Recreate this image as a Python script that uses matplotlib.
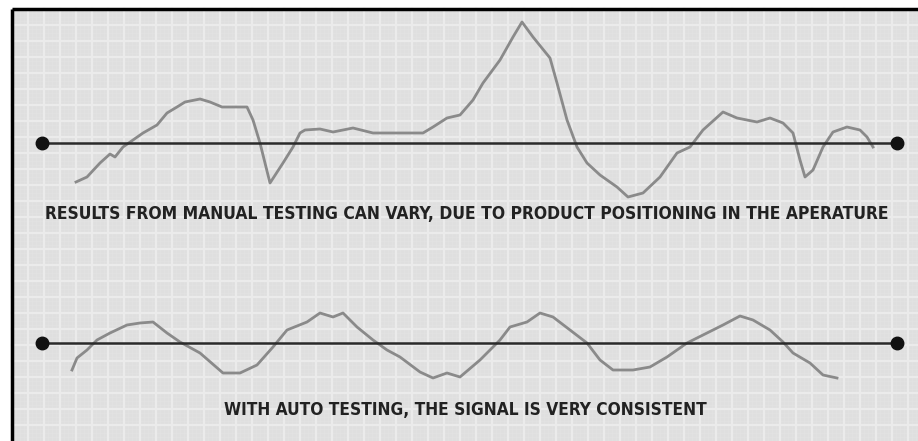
import matplotlib
matplotlib.use("Agg")
import matplotlib.pyplot as plt
from matplotlib import font_manager
import numpy as np

# Top signal (manual testing) - pixel coordinates
manual_x = [76, 87, 100, 110, 115, 123, 133, 143, 157, 167, 177, 185, 200, 210, 222, 233, 247,
            253, 260, 270, 283, 293, 300, 305, 320, 333, 353, 373, 400, 423, 433, 447, 460, 473,
            483, 500, 513, 522, 533, 550, 557, 567, 577, 587, 600, 617, 628, 643, 660, 677, 690,
            703, 723, 737, 757, 770, 783, 793, 800, 805, 813, 823, 833, 847, 860, 867, 873]
manual_y = [182, 177, 163, 154, 157, 147, 140, 133, 125, 113, 107, 102, 99, 102, 107, 107, 107,
            120, 143, 183, 163, 147, 133, 130, 129, 132, 128, 133, 133, 133, 127, 118, 115, 100,
            83, 60, 37, 22, 37, 58, 83, 120, 147, 163, 175, 187, 197, 193, 177, 153, 147,
            130, 112, 118, 122, 118, 123, 133, 160, 177, 170, 147, 132, 127, 130, 137, 147]

# Bottom signal (auto testing)
auto_x = [72, 77, 87, 97, 110, 127, 140, 153, 167, 180, 200, 223, 240, 257, 273, 287, 307, 320,
          333, 343, 357, 373, 387, 400, 420, 433, 447, 460, 480, 500, 510, 527, 540, 553, 570,
          587, 600, 613, 633, 650, 667, 687, 707, 723, 740, 753, 770, 783, 793, 810, 823, 837]
auto_y = [370, 358, 350, 340, 333, 325, 323, 322, 333, 342, 353, 373, 373, 365, 347, 330, 322, 313,
          317, 313, 327, 340, 350, 357, 372, 378, 373, 377, 360, 340, 327, 322, 313, 317, 330,
          343, 360, 370, 370, 367, 357, 343, 333, 325, 316, 320, 330, 342, 353, 363, 375, 378]

baseline_x = [42, 897]
baseline_top_y = 143
baseline_bottom_y = 343

caption_top = "RESULTS FROM MANUAL TESTING CAN VARY, DUE TO PRODUCT POSITIONING IN THE APERATURE"
caption_bottom = "WITH AUTO TESTING, THE SIGNAL IS VERY CONSISTENT"

W, H = 918, 441
fig = plt.figure(figsize=(W / 100, H / 100), dpi=100)
fig.patch.set_facecolor("white")
ax = fig.add_axes([0, 0, 1, 1])
ax.set_xlim(0, W)
ax.set_ylim(H, 0)
ax.axis("off")

# background panel
x0, y0 = 12, 9
ax.add_patch(plt.Rectangle((x0, y0), W - x0, H - y0, facecolor="#dfdfdf", edgecolor="none", zorder=0))
# fine grid
for gx in np.arange(x0 + 4, W, 4):
    ax.plot([gx, gx], [y0, H], color="#e3e3e3", lw=0.4, zorder=0.5)
for gy in np.arange(y0 + 4, H, 4):
    ax.plot([x0, W], [gy, gy], color="#e3e3e3", lw=0.4, zorder=0.5)
# major grid
for gx in np.arange(x0 + 16, W, 16):
    ax.plot([gx, gx], [y0, H], color="#ebebeb", lw=1.6, zorder=0.6)
for gy in np.arange(y0 + 16, H, 16):
    ax.plot([x0, W], [gy, gy], color="#ebebeb", lw=1.6, zorder=0.6)

# frame (top & left)
ax.plot([x0, W], [y0, y0], color="black", lw=2.5, zorder=5, solid_capstyle="butt")
ax.plot([x0, x0], [y0, H], color="black", lw=2.5, zorder=5, solid_capstyle="butt")

# baselines with end dots
for by in (baseline_top_y, baseline_bottom_y):
    ax.plot(baseline_x, [by, by], color="#2a2a2a", lw=1.8, zorder=3)
    ax.plot(baseline_x, [by, by], "o", color="#111111", ms=9, zorder=4)

# signals
ax.plot(manual_x, manual_y, color="#8a8a8a", lw=2.0, zorder=2, solid_joinstyle="round")
ax.plot(auto_x, auto_y, color="#8a8a8a", lw=2.0, zorder=2, solid_joinstyle="round")

fp = font_manager.FontProperties(family="DejaVu Sans", weight="bold", stretch="condensed", size=12.5)
t1 = ax.text(467, 214, caption_top, ha="center", va="center", fontproperties=fp,
             color="#222222", zorder=6)
t2 = ax.text(465, 410, caption_bottom, ha="center", va="center", fontproperties=fp,
             color="#222222", zorder=6)

# fit caption widths to the reference spans
fig.canvas.draw()
r = fig.canvas.get_renderer()
targets = [(t1, 850), (t2, 483)]
for t, target in targets:
    w = t.get_window_extent(r).width
    t.set_fontsize(t.get_fontsize() * min(1.0, target / w))

fig.savefig("out.png", dpi=100, facecolor="white")
